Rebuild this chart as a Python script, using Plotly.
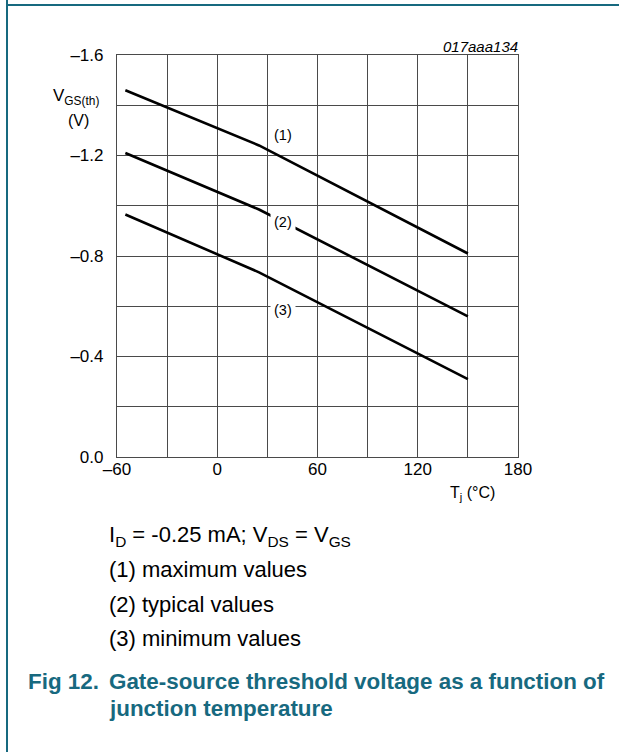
import plotly.graph_objects as go

# ---- data ----
temp_c = [-55, 25, 150]
vgs_max = [-1.46, -1.24, -0.81]
vgs_typ = [-1.21, -0.985, -0.56]
vgs_min = [-0.965, -0.735, -0.31]

x_tickvals = [-60, 0, 60, 120, 180]
x_ticktext = ["\u201360", "0", "60", "120", "180"]
y_tickvals = [0.0, -0.4, -0.8, -1.2, -1.6]
y_ticktext = ["0.0", "\u20130.4", "\u20130.8", "\u20131.2", "\u20131.6"]

curve_labels = ["(1)", "(2)", "(3)"]
label_x = [39.5, 39.5, 39.5]
label_y = [-1.28, -0.935, -0.585]

# ---- layout helpers ----
W, H = 619, 752
L, R, T, B = 117, 518, 55, 457
def xp(px):
    return (px - L) / (R - L)
def yp(py):
    return (B - py) / (B - T)

FONT = "Liberation Sans, Arial, sans-serif"
TEAL = "#17697f"
GRID = "#4a4a4a"

fig = go.Figure()
for ys in (vgs_max, vgs_typ, vgs_min):
    fig.add_trace(go.Scatter(x=temp_c, y=ys, mode="lines",
                             line=dict(color="black", width=2.6),
                             showlegend=False, hoverinfo="skip"))

annotations = []
for t, lx, ly in zip(curve_labels, label_x, label_y):
    annotations.append(dict(x=lx, y=ly, xref="x", yref="y", text=t, showarrow=False,
                            font=dict(family=FONT, size=14.5, color="black"),
                            bgcolor="white", borderpad=3))

def txt(text, px, py, size, xanchor="left", yanchor="middle", color="black", **kw):
    annotations.append(dict(x=xp(px), y=yp(py), xref="paper", yref="paper", text=text,
                            showarrow=False, xanchor=xanchor, yanchor=yanchor,
                            font=dict(family=FONT, size=size, color=color), **kw))

txt("<i>017aaa134</i>", 520, 46, 15, xanchor="right")
txt("V<sub>GS(th)</sub>", 76, 97, 17, xanchor="center")
txt("(V)", 78, 120, 16, xanchor="center")
txt("T<sub>j</sub> (\u00b0C)", 472, 493, 16, xanchor="center")

txt("I<sub>D</sub> = -0.25 mA; V<sub>DS</sub> = V<sub>GS</sub>", 107, 536, 22)
txt("(1) maximum values", 107, 569, 22)
txt("(2) typical values", 107, 604, 22)
txt("(3) minimum values", 107, 638, 22)

txt("<b>Fig 12.</b>", 26, 681, 22.4, color=TEAL)
txt("<b>Gate-source threshold voltage as a function of</b>", 107, 681, 22.4, color=TEAL)
txt("<b>junction temperature</b>", 107, 708, 22.4, color=TEAL)

shapes = [
    dict(type="line", xref="paper", yref="paper", x0=xp(6), x1=xp(W), y0=yp(5), y1=yp(5),
         line=dict(color=TEAL, width=2)),
    dict(type="line", xref="paper", yref="paper", x0=xp(7), x1=xp(7), y0=yp(0), y1=yp(H),
         line=dict(color=TEAL, width=2)),
]

fig.update_layout(
    width=W, height=H,
    margin=dict(l=L, r=W - R, t=T, b=H - B, pad=0),
    paper_bgcolor="white", plot_bgcolor="white",
    annotations=annotations, shapes=shapes,
    showlegend=False,
)
fig.update_xaxes(range=[-60, 180], tickvals=x_tickvals, ticktext=x_ticktext,
                 showgrid=True, gridcolor=GRID, gridwidth=1.2,
                 minor=dict(tickvals=[-30, 30, 90, 150], showgrid=True, gridcolor=GRID, gridwidth=1.2),
                 showline=True, linecolor=GRID, linewidth=1.2, mirror=True,
                 ticks="", zeroline=False, ticklabelstandoff=-4,
                 tickfont=dict(family=FONT, size=17, color="black"))
fig.update_yaxes(range=[0, -1.6], tickvals=y_tickvals, ticktext=y_ticktext,
                 showgrid=True, gridcolor=GRID, gridwidth=1.2,
                 minor=dict(tickvals=[-0.2, -0.6, -1.0, -1.4], showgrid=True, gridcolor=GRID, gridwidth=1.2),
                 showline=True, linecolor=GRID, linewidth=1.2, mirror=True,
                 ticks="", zeroline=False, ticklabelstandoff=9,
                 tickfont=dict(family=FONT, size=17, color="black"))

fig.write_html("out.html")
